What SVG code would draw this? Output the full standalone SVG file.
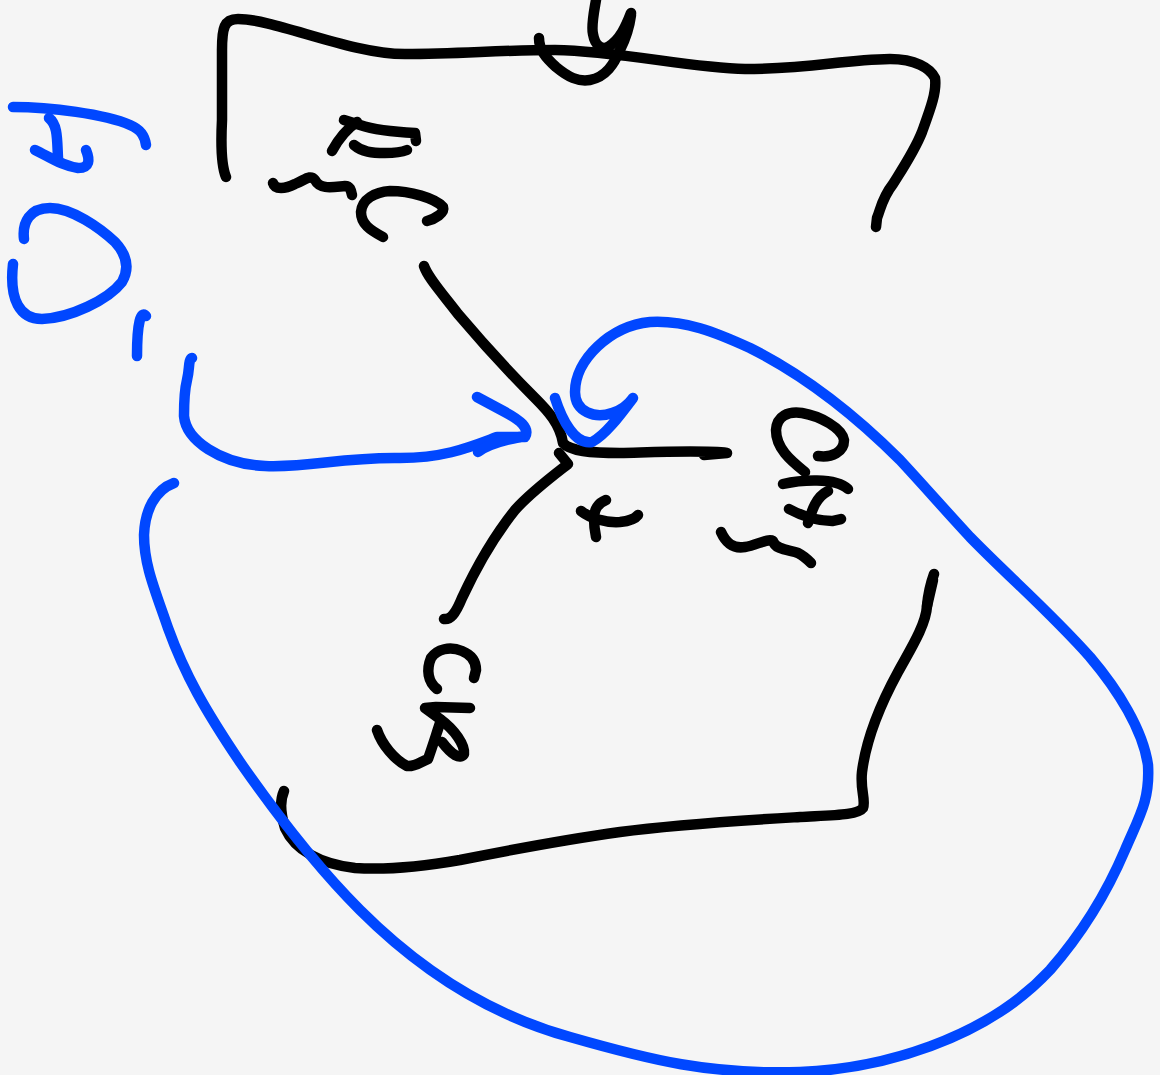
<svg xmlns="http://www.w3.org/2000/svg" width="1160" height="1075" viewBox="0 0 1160 1075">
<style>
path{fill:none;stroke-linecap:round;stroke-linejoin:round;stroke-width:10.5}
.k{stroke:#000}
.b{stroke:#0047ff}
</style>
<rect width="1160" height="1075" fill="#f5f5f5"/>
<g id="black-strokes">
<path class="k" d="M226 177C221 165 221 140 222 120L222 50C222 28 224 19 238 19C275 19 350 54 405 54C460 54 500 50 555 50C620 51 690 68 745 69C810 69 840 60 890 59C915 59 930 68 935 78C937 92 930 110 922 132C915 150 903 168 893 184C882 198 881 208 877 218L876 227"/>
<path class="k" d="M596 0C594 12 591 26 593 34C595 46 602 50 608 47C620 40 626 26 631 13"/>
<path class="k" d="M539 38C539 50 546 58 556 67C568 77 578 82 590 80C606 77 614 64 620 50C625 40 629 30 631 15"/>
<path class="k" d="M344 120L360 125C375 130 395 132 415 133L416 141"/>
<path class="k" d="M357 122C345 130 338 140 332 151"/>
<path class="k" d="M354 145C362 152 372 153 385 153C395 153 402 152 407 150"/>
<path class="k" d="M273 183C275 190 285 189 295 184C305 180 310 174 315 180C320 190 333 187 345 186C350 186 351 190 352 195"/>
<path class="k" d="M383 237C370 230 361 224 361 212C362 199 375 192 390 191C410 191 435 198 443 207C445 213 435 219 427 221"/>
<path class="k" d="M424 266C428 278 442 293 458 314C480 340 510 373 535 398C548 411 560 424 563 443C570 451 590 453 620 453C660 452 705 450 727 453L704 455"/>
<path class="k" d="M559 453L568 464C550 478 530 493 515 510C495 535 475 570 462 598C455 615 450 620 444 619"/>
<path class="k" d="M581 511C590 518 605 523 620 522C630 521 635 519 638 515"/>
<path class="k" d="M606 500C598 503 594 510 594 518C594 525 595 532 596 537"/>
<path class="k" d="M805 472C790 460 776 448 776 430C777 416 788 411 802 413C820 416 842 428 844 440C844 452 832 458 818 456"/>
<path class="k" d="M783 484C800 480 835 477 848 489"/>
<path class="k" d="M828 491C816 497 812 510 808 523"/>
<path class="k" d="M789 509C802 516 818 521 832 521L841 519"/>
<path class="k" d="M721 532C726 543 733 549 745 547C757 545 768 538 773 541C775 550 790 550 798 553C804 556 808 560 811 563"/>
<path class="k" d="M934 574C930 585 928 595 927 606C926 625 910 650 898 672C880 705 866 740 862 772C860 790 866 800 863 808C858 815 835 815 800 817C750 820 680 824 620 832C570 839 510 850 460 860C420 867 385 870 355 868C320 864 295 850 285 828C280 812 280 800 284 791"/>
<path class="k" d="M927 606L933 580"/>
<path class="k" d="M437 689C428 682 426 670 431 658C437 649 450 646 462 651C472 655 476 662 476 670L474 678"/>
<path class="k" d="M470 708L436 707L425 708L440 719C455 730 465 745 464 754C460 760 452 755 442 742"/>
<path class="k" d="M441 720C436 735 432 748 428 759C420 762 415 767 407 766C395 760 382 745 377 730"/>
</g>
<g id="blue-strokes">
<path class="b" d="M13 107C50 107 105 114 130 125C142 130 145 137 146 145"/>
<path class="b" d="M49 118C58 125 57 140 58 158"/>
<path class="b" d="M35 150C48 156 62 166 78 168C90 168 90 160 86 150"/>
<path class="b" d="M24 239C22 222 30 208 50 208C72 208 100 228 115 242C127 255 130 268 122 282C108 300 70 318 42 319C20 319 9 300 13 264"/>
<path class="b" d="M146 316C141 310 137 322 137 356"/>
<path class="b" d="M192 358C188 360 190 368 187 380C184 392 184 402 184 416C186 440 220 464 265 466C310 468 340 457 400 458C445 458 470 447 497 437L525 437C530 428 520 420 505 412L477 397"/>
<path class="b" d="M478 452C488 444 505 440 520 437"/>
<path class="b" d="M174 483C155 490 145 510 144 535C144 565 155 590 168 628C185 675 205 710 240 762C270 805 310 860 360 910C420 970 490 1015 570 1037C650 1060 710 1075 800 1072C880 1069 985 1040 1050 970C1085 930 1108 890 1125 850C1140 815 1150 800 1148 765C1143 730 1118 690 1090 657C1050 612 1010 578 970 537C945 510 925 487 900 460C860 420 810 378 750 348C715 332 685 320 650 322C610 326 575 360 575 392C575 412 595 419 612 413C622 410 628 405 633 398C618 418 605 435 592 442C575 445 562 420 555 398"/>
</g>
</svg>
